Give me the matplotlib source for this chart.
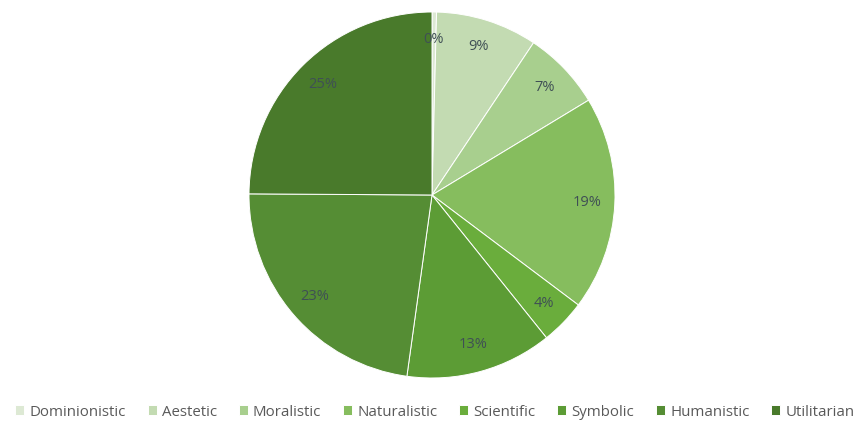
import matplotlib.pyplot as plt

categories = ['Dominionistic', 'Aestetic', 'Moralistic', 'Naturalistic',
              'Scientific', 'Symbolic', 'Humanistic', 'Utilitarian']
values = [0.4, 9, 7, 19, 4, 13, 23, 25]
colors = ['#dde9d4', '#c3dbb2', '#a8cf8e', '#86bd5e',
          '#6aad3c', '#5c9c35', '#558d34', '#497a2b']

plt.rcParams['font.family'] = ['Open Sans', 'DejaVu Sans']

fig = plt.figure(figsize=(8.6, 4.26), dpi=100)
# pie centre ~ (432, 195) px, radius ~ 183 px
ax = fig.add_axes([(432 - 183) / 860, (426 - 195 - 183) / 426, 366 / 860, 366 / 426])

wedges, texts, autotexts = ax.pie(
    values, colors=colors, startangle=90, counterclock=False,
    autopct='%.0f%%', pctdistance=0.85,
    wedgeprops=dict(edgecolor='white', linewidth=0.7),
    textprops=dict(color='#3f4f55', fontsize=10.5))
ax.set_xlim(-1, 1)
ax.set_ylim(-1, 1)
ax.set_aspect('equal')

fig.legend(wedges, categories, loc='center', bbox_to_anchor=(435 / 860, 1 - 412 / 426),
           ncol=len(categories), frameon=False, fontsize=10.8, handlelength=0.6,
           handleheight=0.6, handletextpad=0.35, columnspacing=1.45,
           labelcolor='#595959', borderaxespad=0)

fig.savefig('out.png', dpi=100)
